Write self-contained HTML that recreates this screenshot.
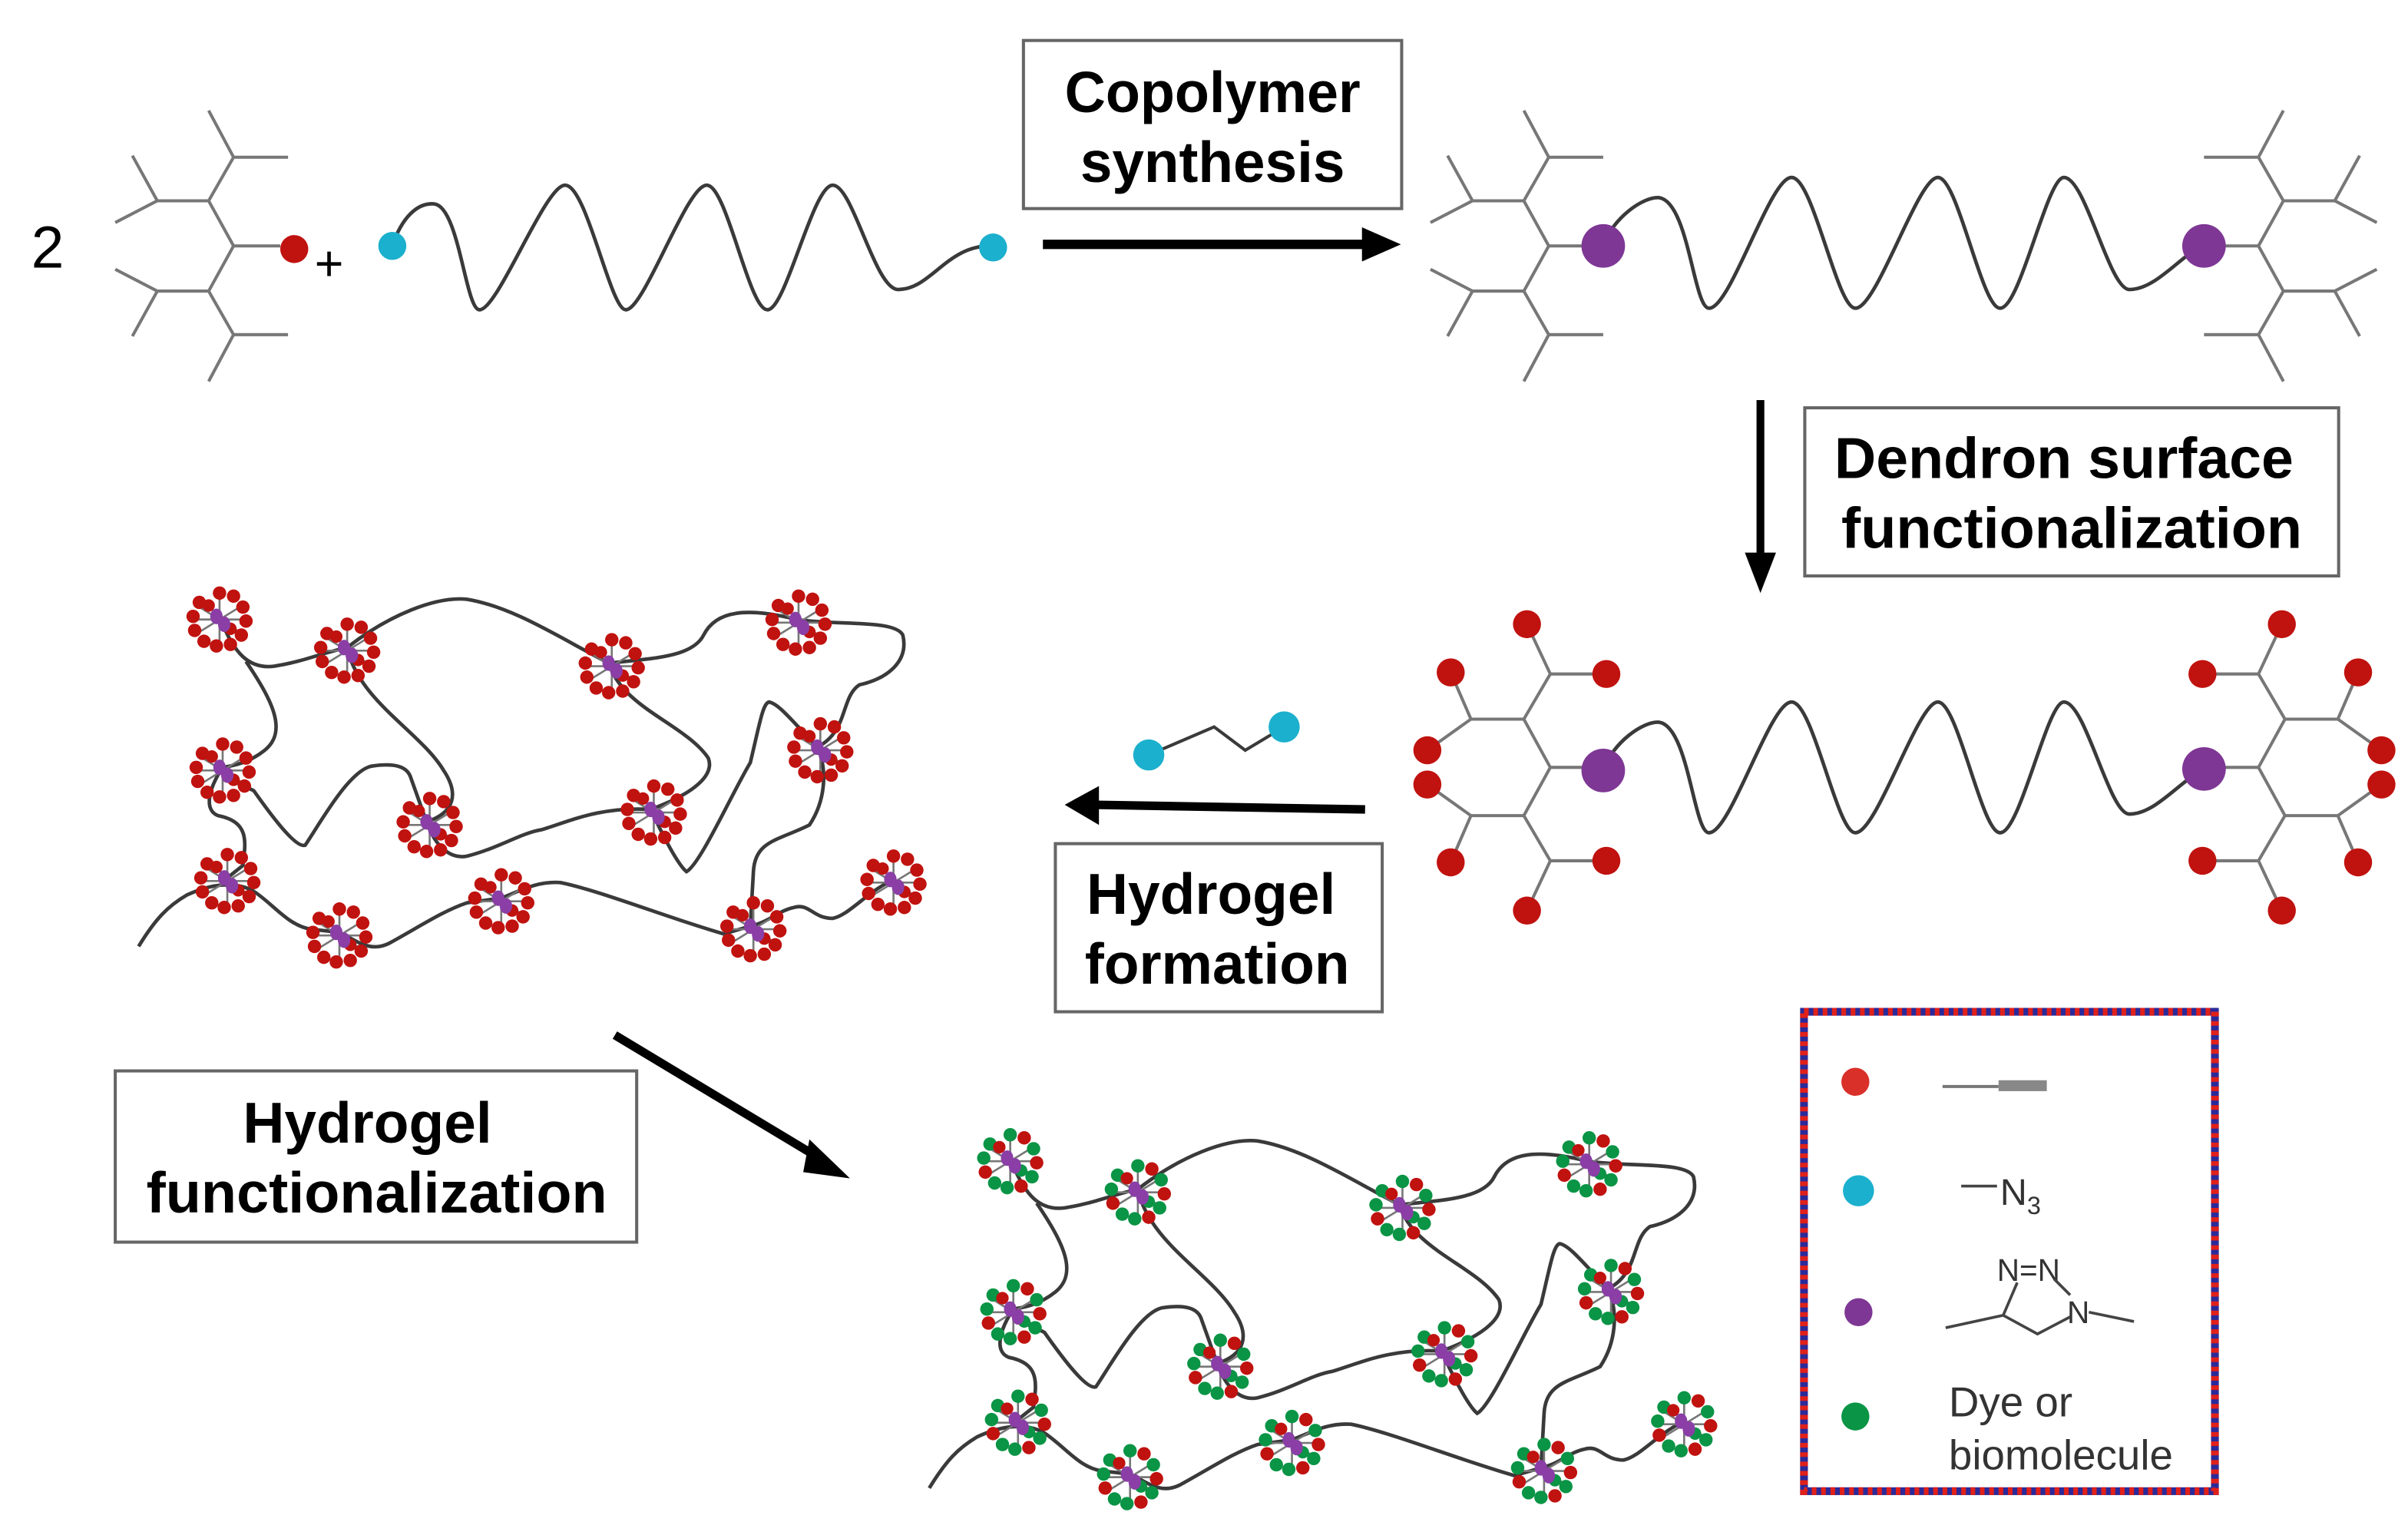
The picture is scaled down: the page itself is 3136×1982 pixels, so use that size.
<!DOCTYPE html>
<html><head><meta charset="utf-8"><style>
html,body{margin:0;padding:0;background:#fff;}
svg{display:block;}
text{font-family:"Liberation Sans",Arial,sans-serif;}
</style></head><body>
<svg width="3136" height="1982" viewBox="0 0 1547 977.8" xmlns="http://www.w3.org/2000/svg">
<defs>
  <g id="dtop" stroke="#777" stroke-width="2" fill="none">
    <path d="M0,0 L-16,-29 L-49,-29 M-16,-29 L0,-57 L35,-57 M0,-57 L-16,-87 M-49,-29 L-65,-58 M-49,-29 L-76,-15"/>
    <path d="M0,0 L-16,29 L-49,29 M-16,29 L0,57 L35,57 M0,57 L-16,87 M-49,29 L-65,58 M-49,29 L-76,15"/>
  </g>
  <g id="dfun">
    <g stroke="#777" stroke-width="2" fill="none">
      <path d="M0,0 L-17,-31 L-51,-31 M-17,-31 L0,-60 L36,-60 M0,-60 L-15,-92 M-51,-31 L-64,-61 M-51,-31 L-79,-11"/>
      <path d="M0,0 L-17,31 L-51,31 M-17,31 L0,60 L36,60 M0,60 L-15,92 M-51,31 L-64,61 M-51,31 L-79,11"/>
    </g>
    <g fill="#c0120f">
      <circle cx="36" cy="-60" r="9"/><circle cx="-15" cy="-92" r="9"/><circle cx="-64" cy="-61" r="9"/><circle cx="-79" cy="-11" r="9"/>
      <circle cx="36" cy="60" r="9"/><circle cx="-15" cy="92" r="9"/><circle cx="-64" cy="61" r="9"/><circle cx="-79" cy="11" r="9"/>
    </g>
  </g>
  <g id="clr">
    <g stroke="#777" stroke-width="1.3"><path d="M-13,-8 L13,8 M-13,8 L13,-8 M0,-15 L0,15 M-15,0 L15,0"/></g>
    <g fill="#c0120f">
      <circle cx="0" cy="-17" r="4.3"/><circle cx="9" cy="-15" r="4.3"/><circle cx="15" cy="-8" r="4.3"/><circle cx="17" cy="1" r="4.3"/>
      <circle cx="14" cy="10" r="4.3"/><circle cx="7" cy="16" r="4.3"/><circle cx="-2" cy="17" r="4.3"/><circle cx="-10" cy="14" r="4.3"/>
      <circle cx="-16" cy="7" r="4.3"/><circle cx="-17" cy="-2" r="4.3"/><circle cx="-13" cy="-11" r="4.3"/><circle cx="-7" cy="-9" r="4"/><circle cx="7" cy="6" r="4"/>
    </g>
    <g fill="#8a3ea6"><ellipse cx="-2" cy="-2" rx="4" ry="5"/><ellipse cx="3" cy="3" rx="4" ry="5"/></g>
  </g>
  <g id="clg">
    <g stroke="#777" stroke-width="1.3"><path d="M-13,-8 L13,8 M-13,8 L13,-8 M0,-15 L0,15 M-15,0 L15,0"/></g>
    <circle cx="0" cy="-17" r="4.3" fill="#0a9445"/><circle cx="9" cy="-15" r="4.3" fill="#c0120f"/><circle cx="15" cy="-8" r="4.3" fill="#0a9445"/><circle cx="17" cy="1" r="4.3" fill="#c0120f"/>
    <circle cx="14" cy="10" r="4.3" fill="#0a9445"/><circle cx="7" cy="16" r="4.3" fill="#c0120f"/><circle cx="-2" cy="17" r="4.3" fill="#0a9445"/><circle cx="-10" cy="14" r="4.3" fill="#0a9445"/>
    <circle cx="-16" cy="7" r="4.3" fill="#c0120f"/><circle cx="-17" cy="-2" r="4.3" fill="#0a9445"/><circle cx="-13" cy="-11" r="4.3" fill="#0a9445"/><circle cx="-7" cy="-9" r="4" fill="#c0120f"/><circle cx="7" cy="6" r="4" fill="#0a9445"/>
    <g fill="#8a3ea6"><ellipse cx="-2" cy="-2" rx="4" ry="5"/><ellipse cx="3" cy="3" rx="4" ry="5"/></g>
  </g>
  <g id="net" fill="none" stroke="#3a3a3a" stroke-width="2.3">
    <path d="M141,396 C150,420 160,430 176,428 C195,425 205,420 223,416"/>
    <path d="M158,425 C175,450 185,470 170,482 C160,490 150,492 143,493"/>
    <path d="M223,416 C250,395 280,383 300,385 C330,390 360,410 391,426"/>
    <path d="M391,426 C420,423 445,422 452,408 C460,392 480,390 512,398"/>
    <path d="M512,398 C540,402 575,398 580,408 C584,425 570,436 552,440 C540,448 545,470 525,480"/>
    <path d="M223,416 C230,450 270,470 285,495 C295,510 292,522 274,528"/>
    <path d="M391,426 C400,455 440,465 455,487 C460,500 440,512 418,520"/>
    <path d="M143,493 C150,505 158,505 163,508 C175,525 190,545 196,543 C205,530 225,493 240,492 C255,490 262,493 264,500 L274,528"/>
    <path d="M274,528 C280,545 290,552 300,550 C320,545 335,535 348,533 C365,528 385,518 418,520"/>
    <path d="M418,520 C425,535 435,555 441,560 C450,555 470,510 482,490 C488,465 490,452 494,451 C500,452 508,462 525,480"/>
    <path d="M525,480 C532,495 530,515 520,530 C500,540 485,540 484,560 L482,595"/>
    <path d="M143,493 C135,505 130,520 140,524 C160,528 158,540 156,556 L146,564"/>
    <path d="M89,608 C100,590 108,582 120,575 C135,568 150,566 162,572 C175,580 185,595 200,597 L218,599 C230,605 238,612 250,606 C270,595 285,585 300,580 L322,577 C335,572 345,566 360,567 C385,572 430,590 465,600 L482,595 C495,592 500,585 510,583 C520,580 522,590 535,590 C545,588 555,575 572,566"/>
  </g>
</defs>

<!-- Top row -->
<text x="20" y="172" font-size="38">2</text>
<use href="#dtop" x="150" y="158"/>
<line x1="150" y1="158" x2="180" y2="158" stroke="#777" stroke-width="2"/>
<circle cx="189" cy="160" r="9" fill="#c0120f"/>
<text x="202" y="180" font-size="32">+</text>
<path d="M252,158 C258,140 268,130 279,131 C295,133 299,199 308,199 C320,199 350,119 363,119 C377,119 392,199 402,199 C414,199 441,119 454,119 C467,119 481,199 493,199 C505,199 522,119 535,119 C548,119 562,186 577,186 C598,186 608,158 636,158" fill="none" stroke="#3a3a3a" stroke-width="2.3"/>
<circle cx="252" cy="158" r="9" fill="#1bb0cd"/>
<circle cx="638" cy="159" r="9" fill="#1bb0cd"/>

<rect x="657.5" y="26" width="243" height="108" fill="#fff" stroke="#666" stroke-width="2"/>
<text x="779" y="72" font-size="37" font-weight="bold" text-anchor="middle" textLength="190" lengthAdjust="spacingAndGlyphs">Copolymer</text>
<text x="779" y="117" font-size="37" font-weight="bold" text-anchor="middle" textLength="170" lengthAdjust="spacingAndGlyphs">synthesis</text>
<line x1="670" y1="157" x2="880" y2="157" stroke="#000" stroke-width="6"/>
<polygon points="875,146 900,157 875,168" fill="#000"/>

<!-- top product -->
<path d="M1030,158 C1036,140 1056,126 1066,127 C1085,130 1088,198 1098,198 C1112,198 1137,114 1151,114 C1165,114 1180,198 1192,198 C1206,198 1232,114 1245,114 C1258,114 1273,198 1285,198 C1298,198 1315,114 1326,114 C1340,114 1355,186 1368,186 C1385,186 1400,165 1415,158" fill="none" stroke="#3a3a3a" stroke-width="2.3"/>
<use href="#dtop" x="995" y="158"/>
<line x1="995" y1="158" x2="1020" y2="158" stroke="#777" stroke-width="2"/>
<use href="#dtop" transform="translate(1451,158) scale(-1,1)"/>
<line x1="1425" y1="158" x2="1451" y2="158" stroke="#777" stroke-width="2"/>
<circle cx="1030" cy="158" r="14" fill="#7e3794"/>
<circle cx="1416" cy="158" r="14" fill="#7e3794"/>

<line x1="1131" y1="257" x2="1131" y2="360" stroke="#000" stroke-width="5"/>
<polygon points="1121,355 1131,381 1141,355" fill="#000"/>
<rect x="1159.5" y="262" width="343" height="108" fill="#fff" stroke="#666" stroke-width="2"/>
<text x="1326" y="307" font-size="37" font-weight="bold" text-anchor="middle" textLength="295" lengthAdjust="spacingAndGlyphs">Dendron surface</text>
<text x="1331" y="352" font-size="37" font-weight="bold" text-anchor="middle" textLength="296" lengthAdjust="spacingAndGlyphs">functionalization</text>

<!-- functionalized copolymer -->
<path d="M1030,495 C1036,477 1056,463 1066,464 C1085,467 1088,535 1098,535 C1112,535 1137,451 1151,451 C1165,451 1180,535 1192,535 C1206,535 1232,451 1245,451 C1258,451 1273,535 1285,535 C1298,535 1315,451 1326,451 C1340,451 1355,523 1368,523 C1385,523 1400,502 1415,495" fill="none" stroke="#3a3a3a" stroke-width="2.3"/>
<use href="#dfun" x="996" y="493"/>
<line x1="996" y1="493" x2="1020" y2="493" stroke="#777" stroke-width="2"/>
<use href="#dfun" transform="translate(1451,493) scale(-1,1)"/>
<line x1="1425" y1="493" x2="1451" y2="493" stroke="#777" stroke-width="2"/>
<circle cx="1030" cy="495" r="14" fill="#7e3794"/>
<circle cx="1416" cy="494" r="14" fill="#7e3794"/>

<!-- hydrogel formation -->
<path d="M738,485 L780,467 L800,482 L825,467" fill="none" stroke="#3a3a3a" stroke-width="2"/>
<circle cx="738" cy="485" r="10" fill="#1bb0cd"/>
<circle cx="825" cy="467" r="10" fill="#1bb0cd"/>
<line x1="700" y1="517" x2="877" y2="520" stroke="#000" stroke-width="5.5"/>
<polygon points="706,505 684,517 706,530" fill="#000"/>
<rect x="678" y="542" width="210" height="108" fill="#fff" stroke="#666" stroke-width="2"/>
<text x="778" y="587" font-size="37" font-weight="bold" text-anchor="middle" textLength="160" lengthAdjust="spacingAndGlyphs">Hydrogel</text>
<text x="782" y="632" font-size="37" font-weight="bold" text-anchor="middle" textLength="170" lengthAdjust="spacingAndGlyphs">formation</text>

<!-- network 1 -->
<use href="#net"/>
<use href="#clr" x="141" y="398"/><use href="#clr" x="223" y="418"/><use href="#clr" x="393" y="428"/>
<use href="#clr" x="513" y="400"/><use href="#clr" x="143" y="495"/><use href="#clr" x="527" y="482"/>
<use href="#clr" x="276" y="530"/><use href="#clr" x="420" y="522"/><use href="#clr" x="146" y="566"/>
<use href="#clr" x="218" y="601"/><use href="#clr" x="322" y="579"/><use href="#clr" x="484" y="597"/>
<use href="#clr" x="574" y="567"/>

<!-- hydrogel functionalization -->
<rect x="74" y="688" width="335" height="110" fill="#fff" stroke="#666" stroke-width="2"/>
<text x="236" y="734" font-size="37" font-weight="bold" text-anchor="middle" textLength="160" lengthAdjust="spacingAndGlyphs">Hydrogel</text>
<text x="242" y="779" font-size="37" font-weight="bold" text-anchor="middle" textLength="296" lengthAdjust="spacingAndGlyphs">functionalization</text>
<line x1="395" y1="665" x2="528" y2="745" stroke="#000" stroke-width="5.5"/>
<polygon points="520,732 546,757 516,753" fill="#000"/>

<!-- network 2 -->
<g transform="translate(508,348)">
<use href="#net"/>
<use href="#clg" x="141" y="398"/><use href="#clg" x="223" y="418"/><use href="#clg" x="393" y="428"/>
<use href="#clg" x="513" y="400"/><use href="#clg" x="143" y="495"/><use href="#clg" x="527" y="482"/>
<use href="#clg" x="276" y="530"/><use href="#clg" x="420" y="522"/><use href="#clg" x="146" y="566"/>
<use href="#clg" x="218" y="601"/><use href="#clg" x="322" y="579"/><use href="#clg" x="484" y="597"/>
<use href="#clg" x="574" y="567"/>
</g>

<!-- legend -->
<rect x="1159" y="650" width="264" height="308" fill="#fff" stroke="#2a2a9a" stroke-width="5"/>
<rect x="1159" y="650" width="264" height="308" fill="none" stroke="#e0201a" stroke-width="5" stroke-dasharray="3 3"/>
<circle cx="1192" cy="695" r="9" fill="#d9302a"/>
<line x1="1248" y1="698" x2="1284" y2="698" stroke="#777" stroke-width="2"/>
<rect x="1284" y="694" width="31" height="7" fill="#888"/>
<circle cx="1194" cy="765" r="10" fill="#1bb0cd"/>
<line x1="1260" y1="762" x2="1283" y2="762" stroke="#444" stroke-width="1.8"/>
<text x="1285" y="774" font-size="24" fill="#333">N<tspan font-size="16" dy="6">3</tspan></text>
<circle cx="1194" cy="843" r="9" fill="#7e3794"/>
<text x="1283" y="823" font-size="20" fill="#333">N=N</text>
<text x="1328" y="850" font-size="20" fill="#333">N</text>
<path d="M1250,853 L1287,845 L1296,824 M1287,845 L1309,857 L1330,846 M1342,843 L1371,849 M1320,822 L1330,832" fill="none" stroke="#444" stroke-width="1.8"/>
<circle cx="1192" cy="910" r="9" fill="#0a9445"/>
<text x="1252" y="910" font-size="27" fill="#333">Dye or</text>
<text x="1252" y="944" font-size="27" fill="#333">biomolecule</text>
</svg>
</body></html>
